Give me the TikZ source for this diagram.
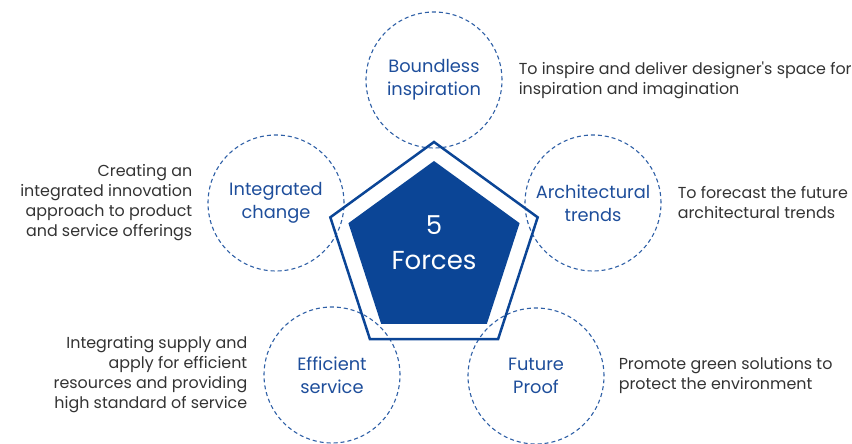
\documentclass[tikz,border=0pt]{standalone}
\usepackage{fontspec}
\setmainfont{Poppins}
\usepackage{tikz}
\usepackage{xcolor}
\usetikzlibrary{shapes.geometric,positioning}
\definecolor{force-blue}{HTML}{0B4596}
\definecolor{dash-blue}{HTML}{2E5FA6}
\definecolor{label-blue}{HTML}{1E4E9B}
\definecolor{note-gray}{HTML}{333333}
\tikzset{
    force-circle/.style = {draw=dash-blue, dash pattern=on 4pt off 3pt, line width=1.1pt, circle, minimum size=136pt, inner sep=0pt, text=label-blue, align=center, font=\fontsize{17.8}{23}\selectfont},
    force-note/.style = {text=note-gray, inner sep=0pt, font=\fontsize{15.9}{20}\selectfont},
    penta/.style = {regular polygon, regular polygon sides=5, inner sep=0pt, outer sep=0pt},
}

\begin{document}
\begin{tikzpicture}[x=1pt, y=1pt]
\useasboundingbox (0,0) rectangle (852,444);
% the five circles
\node [force-circle] (boundless) at (434,364) {Boundless\\inspiration};
\node [force-circle] (integrated) at (276,241) {Integrated\\change};
\node [force-circle] (architectural) at (593,241) {Architectural\\trends};
\node [force-circle] (efficient) at (332,69) {Efficient\\service};
\node [force-circle] (future) at (536,68) {Future\\Proof};
% the pentagon in the middle
\node [penta, draw=force-blue, line width=2.5pt, minimum size=218pt] (outer-penta) at (434,193) {};
\node [penta, fill=force-blue, minimum size=180pt] (inner-penta) at (434,193) {};
\node [text=white, align=center, font=\fontsize{26}{35}\selectfont] (forces) at (434,201) {5\\Forces};
% the notes
\node [force-note, align=left, anchor=west, right=16pt of boundless] (boundless-note) {To inspire and deliver designer\textquotesingle s space for\\inspiration and imagination};
\node [force-note, align=left, anchor=west, right=16pt of architectural] (architectural-note) {To forecast the future\\architectural trends};
\node [force-note, align=right, anchor=east, left=15pt of integrated] (integrated-note) {Creating an\\integrated innovation\\approach to product\\and service offerings};
\node [force-note, align=right, anchor=east, left=16pt of efficient] (efficient-note) {Integrating supply and\\apply for efficient\\resources and providing\\high standard of service};
\node [force-note, align=left, anchor=west, right=14pt of future] (future-note) {Promote green solutions to\\protect the environment};
\end{tikzpicture}
\end{document}
